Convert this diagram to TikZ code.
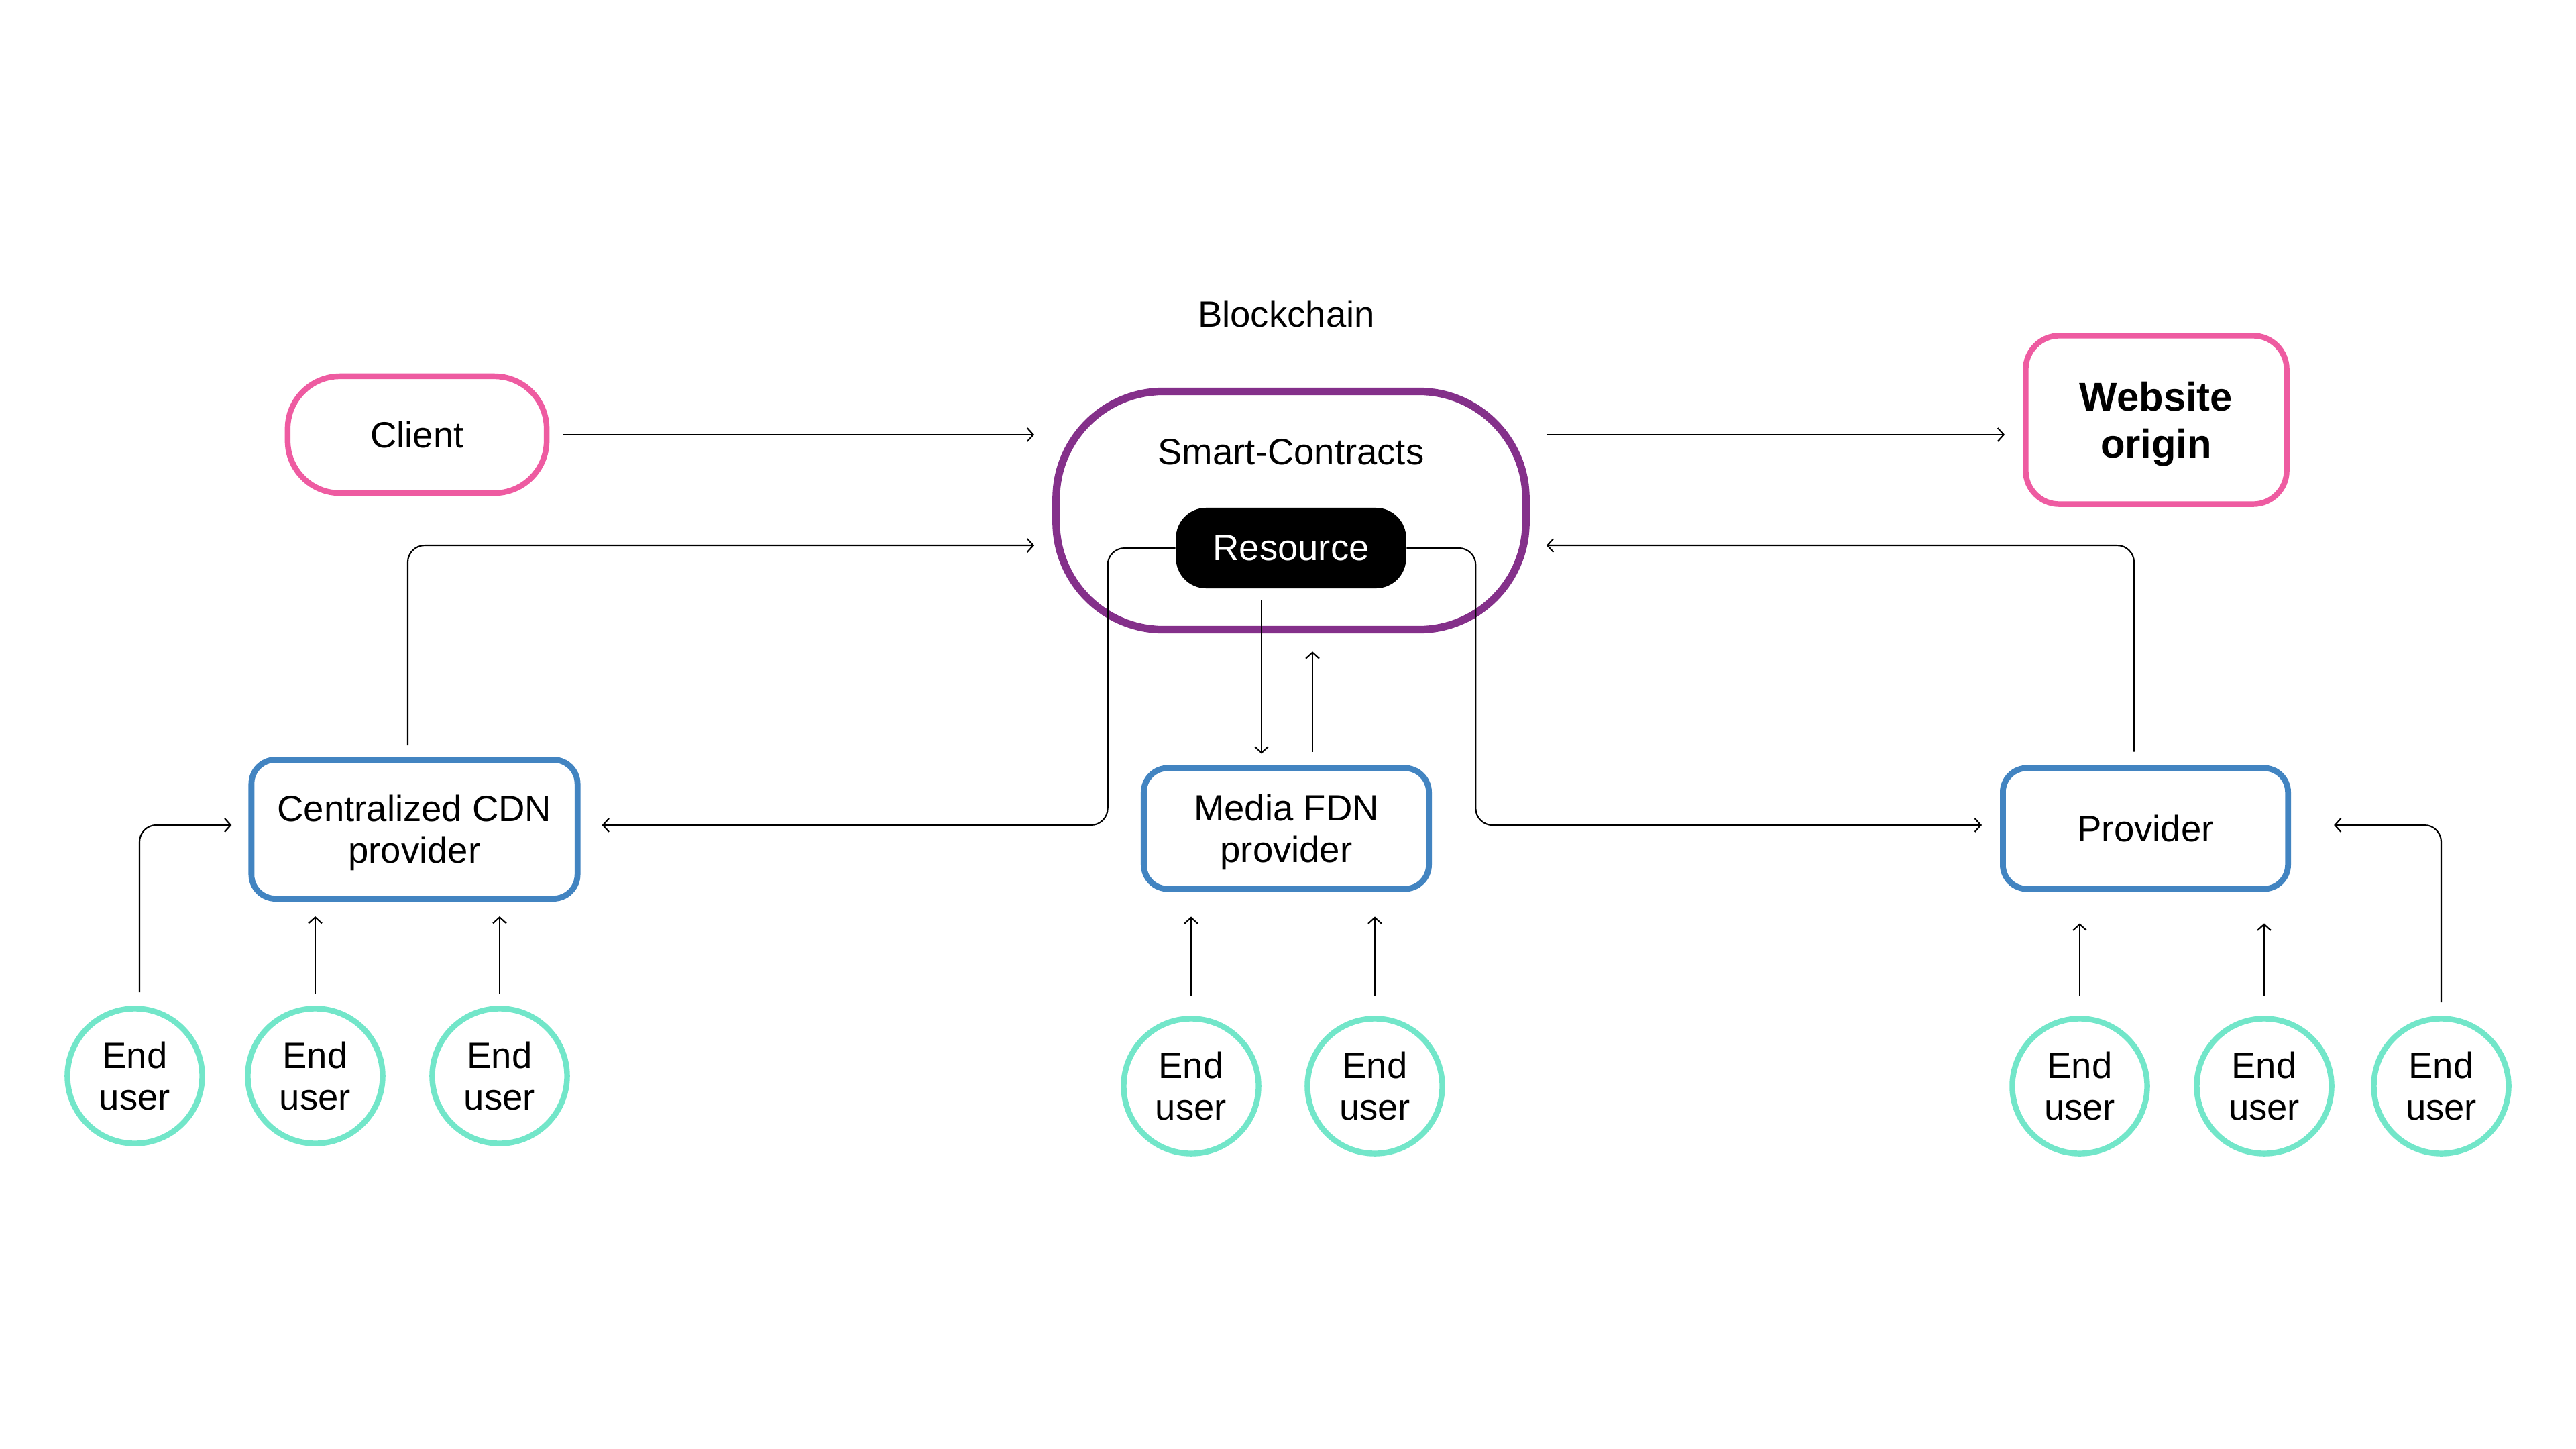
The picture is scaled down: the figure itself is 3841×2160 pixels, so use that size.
\documentclass[tikz,border=0pt]{standalone}
\usepackage{fontspec}
\setmainfont{Liberation Sans}
\usetikzlibrary{arrows.meta}
\definecolor{pinkline}{HTML}{EE5BA1}
\definecolor{purpleline}{HTML}{84308A}
\definecolor{blueline}{HTML}{4284C1}
\definecolor{tealline}{HTML}{72E6C9}

\begin{document}
\begin{tikzpicture}[x=0.01cm,y=-0.01cm,>={Straight Barb[length=0.9mm,width=2mm]},
 every node/.style={font=\fontsize{15.5}{17.5}\selectfont,align=center},
 pinkbox/.style={draw=pinkline,line width=2.4pt,inner sep=0pt},
 bluebox/.style={draw=blueline,line width=2.5pt,rounded corners=0.36cm,inner sep=0pt,
   minimum width=4.25cm,minimum height=1.8cm},
 user/.style={circle,draw=tealline,line width=2.4pt,minimum size=2.01cm,inner sep=0pt},
 link/.style={->,line width=0.6pt,rounded corners=0.25cm}]
 \useasboundingbox (0,0) rectangle (3841,2160);

 \node (chain) at (1918,468) {Blockchain};
 \node[pinkbox,rounded corners=0.78cm,minimum width=3.86cm,minimum height=1.74cm] (client) at (622,648) {Client};
 \node[draw=purpleline,line width=3.2pt,rounded corners=1.6cm,minimum width=7cm,minimum height=3.55cm] (sc) at (1925,761) {};
 \node (sclabel) at (1925,674) {Smart-Contracts};
 \node[fill=black,text=white,rounded corners=0.45cm,minimum width=3.43cm,minimum height=1.2cm,inner sep=0pt] (res) at (1925,817) {Resource};
 \node[pinkbox,rounded corners=0.5cm,minimum width=3.89cm,minimum height=2.51cm,text depth=-0.4pt,
   font=\fontsize{17}{20}\selectfont\bfseries] (web) at (3215,626) {Website\\origin};

 \node[bluebox,minimum width=4.86cm,minimum height=2.07cm,text depth=0pt] (cdn) at (618,1236) {Centralized CDN\\provider};
 \node[bluebox,text depth=0pt] (fdn) at (1918,1235) {Media FDN\\provider};
 \node[bluebox] (prov) at (3199,1235) {Provider};

 \foreach \n/\x/\y in {1/201/1604,2/470/1604,3/745/1604,4/1776/1619,5/2050/1619,6/3101/1619,7/3376/1619,8/3640/1619}
  \node[user] (eu\n) at (\x,\y) {End\\user};

 \draw[link,shorten <=0.2cm,shorten >=0.27cm] (client.east) -- (client.east -| sc.west);
 \draw[link,shorten <=0.25cm,shorten >=0.27cm] (sc.east |- client.east) -- (web.west |- client.east);
 \draw[link,shorten <=0.17cm,shorten >=0.27cm] ([xshift=-1mm]cdn.north) |- ([yshift=-5.2mm]sc.west);
 \draw[link,shorten <=0.2cm,shorten >=0.25cm] ([xshift=-1.7mm]prov.north) |- ([yshift=-5.2mm]sc.east);
 \draw[link,shorten >=0.32cm] (res.west) -- ++(-101,0) |- ([yshift=0.6mm]cdn.east);
 \draw[link,shorten >=0.27cm] (res.east) -- ++(103,0) |- ([yshift=0.5mm]prov.west);
 \draw[link,shorten <=0.17cm,shorten >=0.17cm] ([xshift=-4.4mm]res.south) -- ([xshift=-4.4mm]res.south |- fdn.north);
 \draw[link,shorten <=0.2cm,shorten >=0.27cm] ([xshift=3.9mm]fdn.north) -- ([xshift=3.9mm]fdn.north |- sc.south);

 \draw[link,shorten <=0.2cm,shorten >=0.25cm] ([xshift=0.7mm]eu1.north) |- ([yshift=0.6mm]cdn.west);
 \foreach \n in {2,3}
  \draw[link,shorten <=0.18cm,shorten >=0.22cm] (eu\n.north) -- (eu\n.north |- cdn.south);
 \foreach \n in {4,5}
  \draw[link,shorten <=0.3cm,shorten >=0.37cm] (eu\n.north) -- (eu\n.north |- fdn.south);
 \foreach \n in {6,7}
  \draw[link,shorten <=0.3cm,shorten >=0.47cm] (eu\n.north) -- (eu\n.north |- prov.south);
 \draw[link,shorten <=0.2cm,shorten >=0.64cm] (eu8.north) |- ([yshift=0.5mm]prov.east);
\end{tikzpicture}
\end{document}
